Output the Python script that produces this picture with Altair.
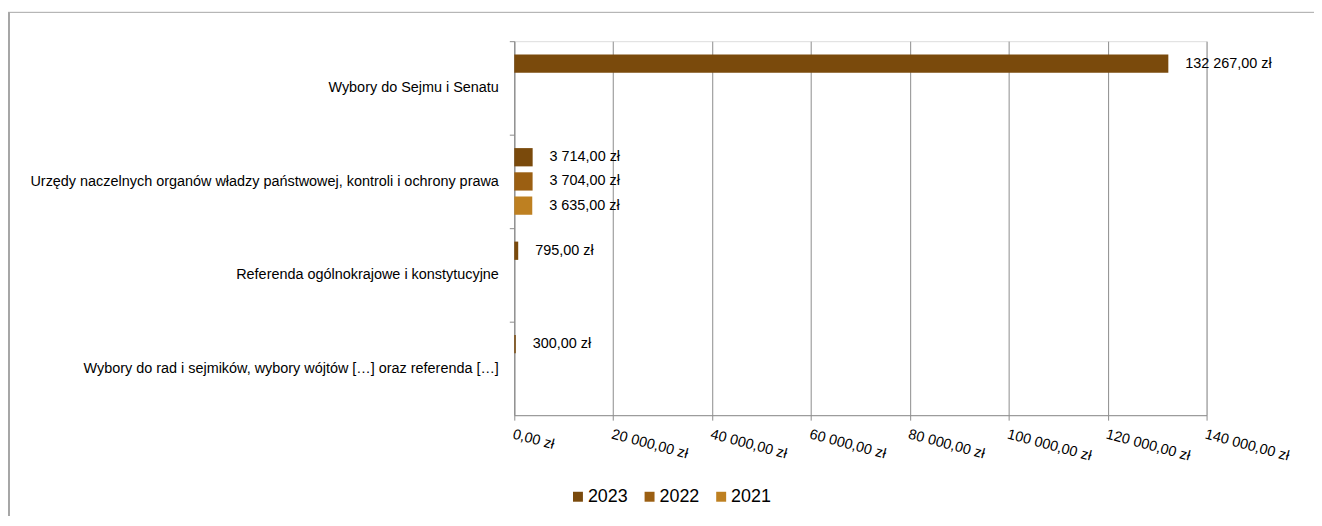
import altair as alt
import pandas as pd

categories = [
    "Wybory do Sejmu i Senatu",
    "Urzędy naczelnych organów władzy państwowej, kontroli i ochrony prawa",
    "Referenda ogólnokrajowe i konstytucyjne",
    "Wybory do rad i sejmików, wybory wójtów […] oraz referenda […]",
]
years = ["2023", "2022", "2021"]
values_2023 = [132267.0, 3714.0, 795.0, 300.0]
values_2022 = [None, 3704.0, None, None]
values_2021 = [None, 3635.0, None, None]
x_ticks = [0, 20000, 40000, 60000, 80000, 100000, 120000, 140000]
colors = ["#7A4A0C", "#9B5F12", "#BE8021"]


def pln(v):
    return f"{v:,.2f}".replace(",", " ").replace(".", ",") + " zł"


rows = []
for year, vals in zip(years, [values_2023, values_2022, values_2021]):
    for cat, v in zip(categories, vals):
        if v is not None:
            rows.append({"category": cat, "year": year, "value": v, "label": pln(v)})
df = pd.DataFrame(rows)

FONT = "Liberation Sans"
GRID = "#8C8C8C"

y_enc = alt.Y(
    "category:N",
    sort=categories,
    scale=alt.Scale(paddingInner=0.287, paddingOuter=0.1435),
    axis=alt.Axis(
        title=None,
        tickOffset=-47,
        labelOffset=47,
        tickSize=5,
        tickColor=GRID,
        domainColor=GRID,
        labelFont=FONT,
        labelFontSize=14.5,
        labelColor="#000000",
        labelPadding=11,
        labelLimit=600,
        grid=False,
    ),
)
x_enc = alt.X(
    "value:Q",
    scale=alt.Scale(domain=[0, 140000], nice=False),
    axis=alt.Axis(
        title=None,
        values=x_ticks,
        labelExpr="replace(replace(format(datum.value, ',.2f'), regexp(',', 'g'), ' '), '.', ',') + ' zł'",
        labelAngle=15,
        labelAlign="left",
        labelBaseline="top",
        labelPadding=7,
        labelFont=FONT,
        labelFontSize=14.5,
        labelColor="#000000",
        tickSize=5,
        tickColor=GRID,
        domainColor=GRID,
        gridColor=GRID,
        gridWidth=1,
        labelOverlap=False,
    ),
)
yoff = alt.YOffset("year:N", sort=years, scale=alt.Scale(paddingInner=0.245, paddingOuter=0))

bars = alt.Chart(df).mark_bar().encode(
    x=x_enc,
    y=y_enc,
    yOffset=yoff,
    color=alt.Color(
        "year:N",
        sort=years,
        scale=alt.Scale(domain=years, range=colors),
        legend=alt.Legend(
            title=None,
            orient="none",
            legendX=55,
            legendY=449,
            direction="horizontal",
            symbolType="square",
            symbolSize=100,
            symbolStrokeWidth=0,
            labelFont=FONT,
            labelFontSize=18,
            labelColor="#000000",
            labelOffset=1,
            columnPadding=12,
        ),
    ),
)

texts = alt.Chart(df).mark_text(
    align="left", baseline="middle", dx=17, font=FONT, fontSize=14.5, color="#000000"
).encode(
    x=alt.X("value:Q"),
    y=alt.Y("category:N", sort=categories),
    yOffset=alt.YOffset("year:N", sort=years),
    text="label:N",
)

frame_df = pd.DataFrame({"k": [0]})
frame_top = alt.Chart(frame_df).mark_rule(color="#A6A6A6", strokeWidth=1).encode(
    x=alt.value(-509), x2=alt.value(830), y=alt.value(-29)
)
frame_left = alt.Chart(frame_df).mark_rule(color="#A6A6A6", strokeWidth=2).encode(
    x=alt.value(-508), y=alt.value(-29), y2=alt.value(490)
)

chart = (
    alt.layer(bars, texts, frame_top, frame_left)
    .properties(
        width=696,
        height=376,
        autosize=alt.AutoSizeParams(type="none"),
        padding={"left": 509, "top": 32, "right": 108, "bottom": 100},
    )
    .configure_view(stroke=None)
    .configure(background="#ffffff")
)

chart.save("out.html", embed_options={"renderer": "svg", "actions": False})
